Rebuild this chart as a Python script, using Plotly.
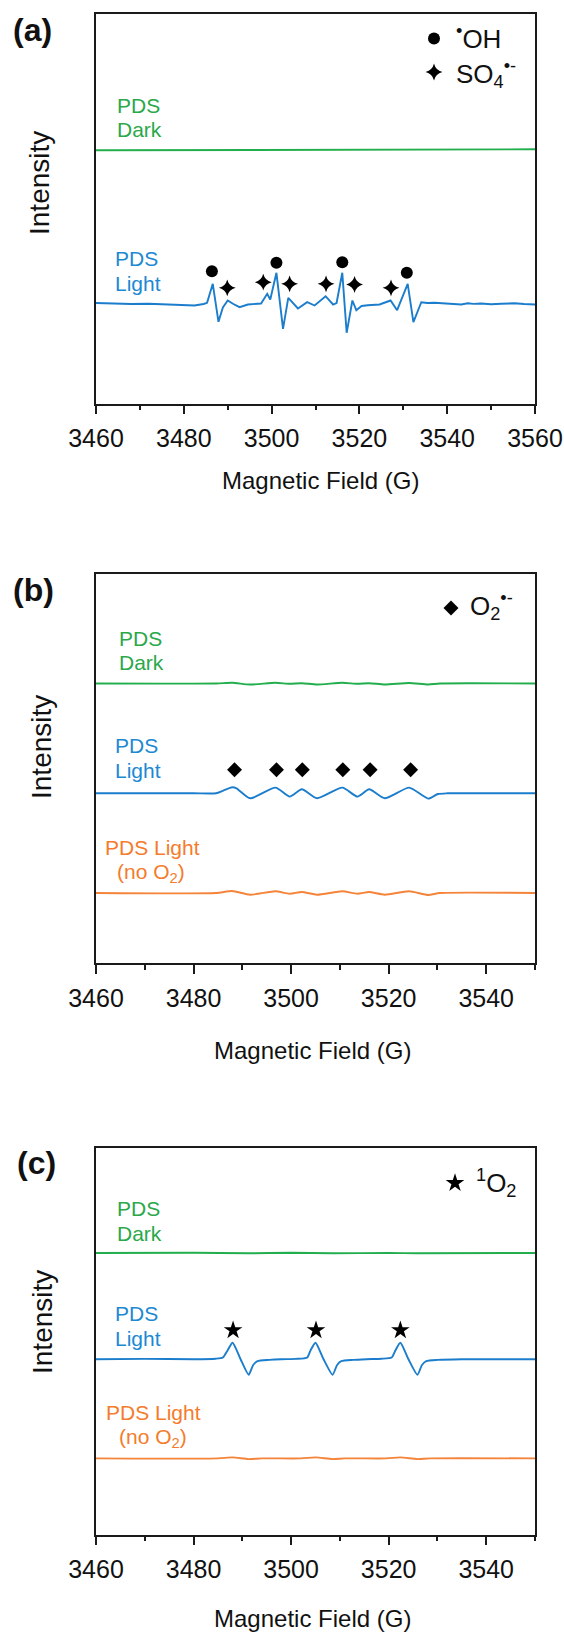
import plotly.graph_objects as go

# ---------------- data ----------------
# Panel (a)  field in G, intensity in a.u. (deviation from each trace's baseline)
A_LIGHT_FIELD = [3460.0, 3464.0, 3468.0, 3472.0, 3476.0, 3479.4, 3482.4, 3484.5, 3485.3, 3486.6,
                 3487.9, 3488.9, 3490.0, 3491.3, 3492.7, 3494.6, 3497.6, 3499.0, 3499.7, 3501.1,
                 3502.6, 3503.8, 3506.0, 3508.1, 3509.8, 3512.3, 3514.0, 3514.8, 3516.1, 3517.1,
                 3518.4, 3519.3, 3520.5, 3521.9, 3524.6, 3527.1, 3528.6, 3531.0, 3532.3, 3534.1,
                 3535.5, 3537.1, 3540.2, 3542.0, 3543.2, 3544.7, 3546.0, 3547.7, 3550.0, 3552.3,
                 3555.3, 3557.5, 3560.0]
A_LIGHT_INT = [1.5, 1.0, 0.5, 0.8, 0.0, -0.7, -1.0, 0.5, 1.7, 20.7,
               -17.3, -3.0, 4.0, 0.5, -2.7, 0.0, 1.0, 10.7, 5.0, 31.7,
               -24.3, 6.7, -4.0, 2.3, -1.0, 8.3, 0.0, 1.5, 31.7, -28.3,
               4.0, -5.7, -1.5, -0.7, 0.0, 4.0, -5.7, 20.7, -17.7, 2.3,
               1.5, 1.7, 1.0, 0.5, 0.0, 1.2, 0.6, 1.0, 0.3, 0.7,
               1.2, 0.5, 0.0]
A_DARK_FIELD = [3460, 3480, 3500, 3520, 3540, 3560]
A_DARK_INT = [-0.3, 0.0, 0.2, 0.0, 0.3, 0.7]
A_OH_FIELD = [3486.4, 3501.1, 3516.1, 3530.8]
A_OH_INT = [33.3, 41.7, 42.3, 31.7]
A_SO4_FIELD = [3489.9, 3498.1, 3504.1, 3512.4, 3518.9, 3527.2]
A_SO4_INT = [16.7, 22.3, 20.7, 20.7, 20.0, 16.7]

# Panel (b)
B_LIGHT_FIELD = [3460.0, 3470.0, 3480.0, 3484.6, 3486.1, 3487.9, 3488.8, 3491.6, 3496.8, 3499.7,
                 3502.2, 3505.3, 3510.5, 3513.6, 3516.0, 3519.2, 3524.2, 3528.1, 3530.1, 3532.0,
                 3540.0, 3550.0]
B_LIGHT_INT = [0.0, 0.0, 0.0, 0.0, 2.7, 6.0, 5.0, -5.0, 5.7, -3.3,
               4.0, -5.0, 5.7, -3.3, 4.0, -5.0, 5.7, -5.3, -0.7, 0.0,
               0.0, 0.0]
B_DARK_FIELD = [3460.0, 3484.6, 3487.9, 3491.6, 3496.8, 3499.7, 3502.2, 3505.3, 3510.5, 3513.6,
                3516.0, 3519.2, 3524.2, 3528.1, 3530.5, 3550.0]
B_DARK_INT = [0.0, 0.0, 0.7, -1.0, 0.7, -0.3, 0.3, -1.0, 0.7, -0.3,
              0.3, -1.0, 0.5, -1.0, 0.0, 0.0]
B_NOO2_FIELD = [3460.0, 3484.6, 3487.9, 3491.6, 3496.8, 3499.7, 3502.2, 3505.3, 3510.5, 3513.6,
                3516.0, 3519.2, 3524.2, 3528.1, 3530.5, 3550.0]
B_NOO2_INT = [0.0, 0.0, 2.0, -1.7, 1.7, -0.7, 1.0, -1.7, 1.7, -0.7,
              1.0, -1.7, 1.7, -2.0, 0.0, 0.0]
B_O2_FIELD = [3488.4, 3497.0, 3502.3, 3510.6, 3516.2, 3524.5]
B_O2_INT = [23.5, 23.5, 23.5, 23.5, 23.5, 23.5]

# Panel (c)
C_LIGHT_FIELD = [3460.0, 3470.0, 3480.0, 3484.5, 3486.0, 3487.0, 3488.0, 3489.6, 3491.3, 3492.2,
                 3493.1, 3495.5, 3498.0, 3501.0, 3503.3, 3504.0, 3505.0, 3506.6, 3508.5, 3509.4,
                 3510.3, 3512.7, 3515.5, 3518.5, 3520.6, 3521.4, 3522.4, 3524.0, 3525.9, 3526.8,
                 3527.7, 3530.0, 3535.0, 3540.0, 3550.0]
C_LIGHT_INT = [0.0, 0.3, 0.0, 0.5, 1.7, 9.0, 16.5, 0.5, -15.5, -6.0,
               -2.0, -0.7, 0.0, 0.3, 1.7, 9.0, 16.5, 0.5, -15.5, -6.0,
               -2.0, -0.7, 0.0, 0.5, 1.7, 9.0, 16.5, 0.5, -15.5, -6.0,
               -2.0, -0.7, 0.0, 0.0, 0.0]
C_DARK_FIELD = [3460.0, 3480.0, 3491.3, 3500.0, 3508.5, 3520.0, 3525.9, 3550.0]
C_DARK_INT = [0.0, 0.2, -0.3, 0.2, -0.3, 0.0, -0.3, 0.0]
C_NOO2_FIELD = [3460.0, 3485.0, 3488.0, 3491.3, 3494.0, 3502.0, 3505.0, 3508.5, 3511.0, 3519.5,
                3522.4, 3525.9, 3528.5, 3550.0]
C_NOO2_INT = [0.0, 0.0, 1.0, -0.7, 0.0, 0.0, 1.0, -0.7, 0.0, 0.0,
              1.0, -0.7, 0.0, 0.0]
C_1O2_FIELD = [3488.1, 3505.1, 3522.4]
C_1O2_INT = [29.0, 29.0, 29.0]

# vertical offsets of the stacked spectra (a.u.)
OFFSET_A = {"dark": 253.5, "light": 99.0}
OFFSET_B = {"dark": 279.8, "light": 170.0, "noo2": 70.3}
OFFSET_C = {"dark": 281.5, "light": 175.3, "noo2": 76.1}

X_TICK_START = 3460
X_DTICK = 20
X_MINOR = 10

# ---------------- styling / geometry ----------------
W, H = 564, 1634
FONT = "Liberation Sans, Arial, sans-serif"
GREEN, BLUE, ORANGE = "#22ae4c", "#1b7dcc", "#f5843b"
GREEN_T, BLUE_T, ORANGE_T = "#2aa84a", "#1d89d2", "#f47c2c"
AXC = "#1a1a1a"

FRAME_L, FRAME_R = 96.0, 535.0
PANEL_TB = [(13.5, 403.5), (574.0, 963.3), (1148.0, 1534.5)]
X_RANGES = [(3460, 3560), (3460, 3550), (3460, 3550)]


def pxx(x):
    return x / W


def pxy(y):
    return 1 - y / H


def to_data(i, x_px, y_px):
    x0, x1 = X_RANGES[i]
    top, bot = PANEL_TB[i]
    return x0 + (x_px - FRAME_L) / (FRAME_R - FRAME_L) * (x1 - x0), bot - y_px


fig = go.Figure()


def line(i, xs, ys, off, color, shape="linear"):
    ax = "" if i == 0 else str(i + 1)
    fig.add_trace(go.Scatter(x=xs, y=[v + off for v in ys], mode="lines",
                             line=dict(color=color, width=1.9, shape=shape,
                                       smoothing=0.6 if shape == "spline" else None),
                             xaxis="x" + ax, yaxis="y" + ax, showlegend=False,
                             hoverinfo="skip"))


def marks(i, xs, ys, off, symbol, size):
    ax = "" if i == 0 else str(i + 1)
    fig.add_trace(go.Scatter(x=xs, y=[v + off for v in ys], mode="markers",
                             marker=dict(symbol=symbol, size=size, color="black",
                                         line=dict(width=0)),
                             xaxis="x" + ax, yaxis="y" + ax, showlegend=False,
                             cliponaxis=False, hoverinfo="skip"))


SZ_CIRCLE, SZ_SPARK, SZ_DIAMOND, SZ_STAR = 12, 12, 11.5, 14

# panel a
line(0, A_DARK_FIELD, A_DARK_INT, OFFSET_A["dark"], GREEN)
line(0, A_LIGHT_FIELD, A_LIGHT_INT, OFFSET_A["light"], BLUE)
marks(0, A_OH_FIELD, A_OH_INT, OFFSET_A["light"], "circle", SZ_CIRCLE)
marks(0, A_SO4_FIELD, A_SO4_INT, OFFSET_A["light"], "star-diamond", SZ_SPARK)
# panel b
line(1, B_DARK_FIELD, B_DARK_INT, OFFSET_B["dark"], GREEN, "spline")
line(1, B_LIGHT_FIELD, B_LIGHT_INT, OFFSET_B["light"], BLUE, "spline")
line(1, B_NOO2_FIELD, B_NOO2_INT, OFFSET_B["noo2"], ORANGE, "spline")
marks(1, B_O2_FIELD, B_O2_INT, OFFSET_B["light"], "diamond", SZ_DIAMOND)
# panel c
line(2, C_DARK_FIELD, C_DARK_INT, OFFSET_C["dark"], GREEN, "spline")
line(2, C_LIGHT_FIELD, C_LIGHT_INT, OFFSET_C["light"], BLUE, "spline")
line(2, C_NOO2_FIELD, C_NOO2_INT, OFFSET_C["noo2"], ORANGE, "spline")
marks(2, C_1O2_FIELD, C_1O2_INT, OFFSET_C["light"], "star", SZ_STAR)

# legend symbols (layout decorations)
for (xp, yp, sym, size) in [(434, 38.5, "circle", SZ_CIRCLE), (434, 72, "star-diamond", SZ_SPARK)]:
    gx, gy = to_data(0, xp, yp)
    marks(0, [gx], [gy], 0, sym, size)
gx, gy = to_data(1, 451, 608)
marks(1, [gx], [gy], 0, "diamond", SZ_DIAMOND)
gx, gy = to_data(2, 455, 1183)
marks(2, [gx], [gy], 0, "star", SZ_STAR)

layout = dict(template="none", width=W, height=H,
              margin=dict(l=0, r=0, t=0, b=0, pad=0, autoexpand=False),
              paper_bgcolor="white", plot_bgcolor="white",
              font=dict(family=FONT, color=AXC), showlegend=False)

for i in range(3):
    ax = "" if i == 0 else str(i + 1)
    top, bot = PANEL_TB[i]
    layout["xaxis" + ax] = dict(
        domain=[pxx(FRAME_L), pxx(FRAME_R)], range=list(X_RANGES[i]), anchor="y" + ax,
        automargin=False,
        showline=True, mirror=True, linecolor=AXC, linewidth=1.5,
        ticks="outside", ticklen=9, tickwidth=1.5, tickcolor=AXC,
        tick0=X_TICK_START, dtick=X_DTICK, ticklabelstandoff=3,
        minor=dict(ticks="outside", ticklen=5, tickwidth=1.5, tickcolor=AXC, dtick=X_MINOR,
                   tick0=X_TICK_START, showgrid=False),
        tickfont=dict(size=25, family=FONT, color="#111"),
        showgrid=False, zeroline=False, fixedrange=True)
    layout["yaxis" + ax] = dict(
        domain=[pxy(bot), pxy(top)], range=[0, bot - top], anchor="x" + ax,
        automargin=False,
        showline=True, mirror=True, linecolor=AXC, linewidth=1.5,
        ticks="", showticklabels=False, showgrid=False, zeroline=False, fixedrange=True)

ann = []


def text(x, y, s, size, color="#111", xanchor="left", angle=0):
    ann.append(dict(x=pxx(x), y=pxy(y), xref="paper", yref="paper", text=s,
                    showarrow=False, xanchor=xanchor, yanchor="middle", textangle=angle,
                    font=dict(size=size, color=color, family=FONT)))


# x titles, y titles, panel labels
for (xc, yc) in [(320, 480), (312, 1050), (312, 1618)]:
    text(xc, yc, "Magnetic Field (G)", 24, xanchor="center")
for (xc, yc) in [(39, 183), (41, 747), (42, 1322)]:
    text(xc, yc, "Intensity", 28, xanchor="center", angle=-90)
for (xc, yc, s) in [(32, 30, "(a)"), (33.5, 590, "(b)"), (36.5, 1163, "(c)")]:
    text(xc, yc, "<b>" + s + "</b>", 32, xanchor="center")

# curve labels
text(115, 106, "PDS", 21, GREEN_T); text(115, 130, "Dark", 21, GREEN_T)
text(113, 258, "PDS", 21, BLUE_T); text(113, 283, "Light", 21, BLUE_T)
text(117, 638, "PDS", 21, GREEN_T); text(117, 662, "Dark", 21, GREEN_T)
text(113, 746, "PDS", 21, BLUE_T); text(113, 771, "Light", 21, BLUE_T)
text(103, 847, "PDS Light", 21, ORANGE_T); text(115, 873, "(no O<sub>2</sub>)", 21, ORANGE_T)
text(115, 1208, "PDS", 21, GREEN_T); text(115, 1233, "Dark", 21, GREEN_T)
text(113, 1313, "PDS", 21, BLUE_T); text(113, 1338, "Light", 21, BLUE_T)
text(104, 1412, "PDS Light", 21, ORANGE_T); text(117, 1438, "(no O<sub>2</sub>)", 21, ORANGE_T)

# legend labels
text(454, 37, "<sup>•</sup>OH", 26)
text(454, 74, "SO<sub>4</sub><sup>•-</sup>", 26)
text(468, 606, "O<sub>2</sub><sup>•-</sup>", 26)
text(474, 1183, "<sup>1</sup>O<sub>2</sub>", 26)

layout["annotations"] = ann
fig.update_layout(**layout)
fig.write_html("out.html")
